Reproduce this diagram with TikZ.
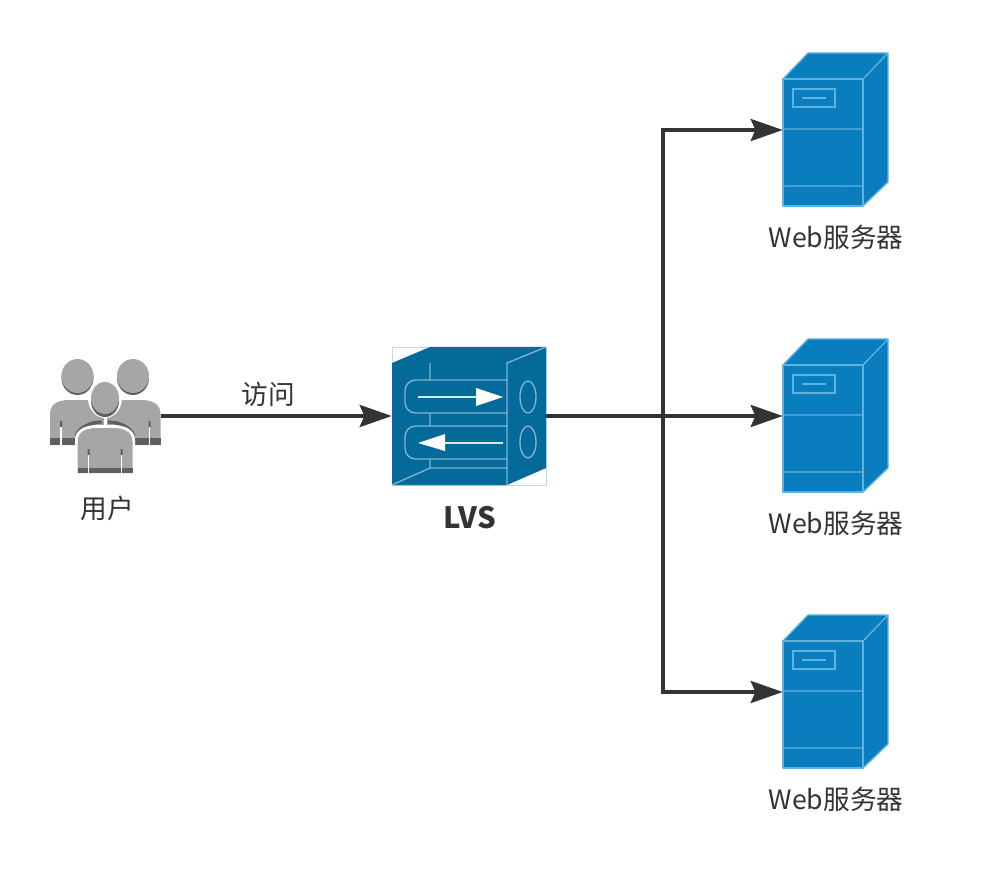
\documentclass[tikz,border=0pt]{standalone}
\usepackage{fontspec}
\setmainfont{Noto Sans CJK SC}
\usetikzlibrary{arrows.meta,positioning}
\definecolor{c1}{HTML}{333333}
\definecolor{srvfill}{HTML}{0A7DBE}
\definecolor{srvline}{HTML}{5FB2DF}
\definecolor{lvsfill}{HTML}{046A99}
\definecolor{lvsline}{HTML}{7DB6D0}
\definecolor{usrfill}{HTML}{A6A6A6}
\definecolor{usrdark}{HTML}{5F5F5F}
\tikzset{
  pics/server/.style={code={
    \fill[srvfill] (-53,-51) -- (-28,-77) -- (52,-77) -- (52,52) -- (27,76) -- (-53,76) -- cycle;
    \draw[srvline,line width=1.5pt,line join=round] (-53,-51) rectangle (27,76);
    \draw[srvline,line width=1pt] (-53,-51) -- (-28,-77) -- (52,-77) -- (52,52) -- (27,76)
      (27,-51) -- (52,-77)
      (-53,-1) -- (27,-1) (-53,56) -- (27,56);
    \draw[srvline,line width=1.7pt] (-43,-41) rectangle (-1,-23);
    \draw[srvline,line width=1pt] (-34,-32) -- (-10,-32);
  }},
  pics/balancer/.style={code={
    \draw[lvsline!50,line width=.5pt] (-77,-69) rectangle (77,69);
    \fill[lvsfill] (-77,-53) -- (-39,-69) -- (77,-69) -- (77,52) -- (38,69) -- (-77,69) -- cycle;
    \draw[lvsline,line width=1pt] (38,69) -- (38,-53) -- (77,-69)
      (-77,69) -- (-39,52) -- (38,52)
      (-39,-53) -- (-39,-36) (-39,-3) -- (-39,10) (-39,43) -- (-39,52);
    \draw[lvsline,line width=1pt,rounded corners=8pt] (38,-36) -- (-64,-36) -- (-64,-3) -- (38,-3);
    \draw[lvsline,line width=1pt,rounded corners=8pt] (38,10) -- (-64,10) -- (-64,43) -- (38,43);
    \draw[lvsline,line width=1pt] (59,-19) ellipse[x radius=8,y radius=16]
      (59,26) ellipse[x radius=8,y radius=16];
    \draw[white!85!lvsfill,line width=1pt] (-51,-19) -- (10,-19) (34,27) -- (-24,27);
    \fill[white] (7,-28) -- (34,-19) -- (7,-10) -- cycle;
    \fill[white] (-24,18) -- (-51,27) -- (-24,35) -- cycle;
  }},
  pics/backperson/.style={code={
    \fill[usrdark] (0,-22) ellipse[x radius=16,y radius=17];
    \fill[usrfill] (0,-24) ellipse[x radius=16,y radius=17];
    \fill[usrfill] (-27.5,45) -- (-27.5,14) .. controls (-27.5,3) and (-18,0) .. (-8,0)
      -- (8,0) .. controls (18,0) and (27.5,3) .. (27.5,14) -- (27.5,45) -- cycle;
    \fill[usrdark] (-27.5,38) rectangle (27.5,45);
    \fill[usrdark] (-17.5,21) rectangle (-15.5,27) (15.5,21) rectangle (17.5,27);
    \draw[white,line width=.9pt] (-16.5,27) -- (-16.5,45) (16.5,27) -- (16.5,45);
  }},
  pics/frontperson/.style={code={
    \fill[usrdark] (0,-27) ellipse[x radius=14,y radius=16];
    \fill[usrfill] (0,-30) ellipse[x radius=14,y radius=16];
    \fill[usrfill] (-27.5,45) -- (-27.5,14) .. controls (-27.5,3) and (-18,0) .. (-8,0)
      -- (8,0) .. controls (18,0) and (27.5,3) .. (27.5,14) -- (27.5,45) -- cycle;
    \fill[usrdark] (-27.5,40) rectangle (27.5,45);
    \fill[usrdark] (-17.5,21) rectangle (-15.5,27) (15.5,21) rectangle (17.5,27);
    \draw[white,line width=.9pt] (-16.5,27) -- (-16.5,45) (16.5,27) -- (16.5,45);
  }},
  pics/usergroup/.style={code={
    \pic at (-27.5,-16) {backperson};
    \pic at (28,-16) {backperson};
    \fill[white] (0,-18) ellipse[x radius=17,y radius=20];
    \draw[usrdark,line width=2.4pt] (-29,20) .. controls (-26,11) and (-14,6) .. (-3,6)
      (29,20) .. controls (26,11) and (14,6) .. (3,6);
    \fill[white] (-30,58) -- (-30,24) .. controls (-30,14) and (-20,9) .. (-8,9)
      -- (8,9) .. controls (20,9) and (30,14) .. (30,24) -- (30,58) -- cycle;
    \fill[white] (-1.5,0) rectangle (1.5,12);
    \pic at (0,12) {frontperson};
  }}
}
\begin{document}
\begin{tikzpicture}[x=.75pt,y=-.75pt,
  >={Stealth[length=24pt,width=16.5pt,inset=3.5pt]},
  iconbox/.style={rectangle,inner sep=0pt},
  link/.style={->,draw=c1,line width=2.7pt},
  caption/.style={text=c1,inner sep=0pt,font=\fontsize{20}{24}\selectfont}]
\useasboundingbox (0,0) rectangle (983,870);

\node[iconbox,minimum width=83.25pt,minimum height=87pt] (user) at (105,416) {};
\node[iconbox,minimum width=115.5pt,minimum height=103.5pt] (lvs) at (469,416) {};
\node[iconbox,minimum width=79.5pt,minimum height=115.5pt] (webA) at (836,130) {};
\node[iconbox,minimum width=79.5pt,minimum height=115.5pt] (webB) at (836,416) {};
\node[iconbox,minimum width=79.5pt,minimum height=115.5pt] (webC) at (836,692) {};
\coordinate (hub) at (663,416);

\pic at (user.center) {usergroup};
\pic at (lvs.center) {balancer};
\pic at (webA.center) {server};
\pic at (webB.center) {server};
\pic at (webC.center) {server};

\node[caption,anchor=center] (userlabel) at (107,508) {用户};
\node[caption,anchor=center,font=\fontsize{22}{26}\selectfont] (lvslabel) at (470,518) {\textbf{LVS}};
\node[caption,below=13pt of webA] (webAlabel) {Web服务器};
\node[caption,below=13pt of webB] (webBlabel) {Web服务器};
\node[caption,below=13pt of webC] (webClabel) {Web服务器};

\draw[link] (user.east) -- node[caption,above=6pt,xshift=-6pt] (visit) {访问} (lvs.west);
\draw[link] (lvs.east) -- (webB.west);
\draw[link] (hub) |- (webA.west);
\draw[link] (hub) |- (webC.west);
\end{tikzpicture}
\end{document}
